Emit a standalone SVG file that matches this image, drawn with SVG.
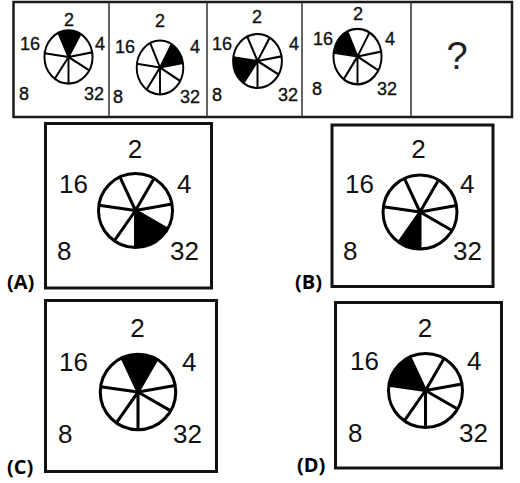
<svg xmlns="http://www.w3.org/2000/svg" xmlns:xlink="http://www.w3.org/1999/xlink" width="520" height="483" viewBox="0 0 520 483">
<style>
.bg{fill:#fff}
.frame{fill:none;stroke:#1a1a1a;stroke-width:2.5}
.div{fill:none;stroke:#333;stroke-width:1.5}
.box{fill:#fff;stroke:#111;stroke-width:3}
.wfill{fill:#fff}
.wline{fill:none;stroke:#000;stroke-width:3;stroke-linejoin:round}
.blk{fill:#000}
.s{font-family:"Liberation Sans",Arial,sans-serif;font-size:18px;fill:#111;stroke:#111;stroke-width:0.35}
.l{font-family:"Liberation Sans",Arial,sans-serif;font-size:26px;fill:#111}
.q{font-family:"Liberation Sans",Arial,sans-serif;font-size:38px;fill:#222;text-anchor:middle}
.opt{font-family:"Open Sans","DejaVu Sans",sans-serif;font-size:20px;font-weight:bold;fill:#000}
.c{text-anchor:middle}
</style>
<defs>
<circle id="wbase" class="wfill" r="37"/>
<g id="wlines" class="wline">
<circle r="37"/>
<path d="M0,0L-15.64,-33.53M0,0L18.5,-32.04M0,0L36.44,-6.42M0,0L32.04,18.5M0,0L0,37M0,0L-21.22,30.31M0,0L-36.64,-5.15"/>
</g>
<path id="secTop" class="blk" d="M0,0L-15.64,-33.53A37,37 0 0 1 18.5,-32.04Z"/>
<path id="secUR" class="blk" d="M0,0L18.5,-32.04A37,37 0 0 1 36.44,-6.42Z"/>
<path id="secLR" class="blk" d="M0,0L32.04,18.5A37,37 0 0 1 0,37Z"/>
<path id="secBL" class="blk" d="M0,0L0,37A37,37 0 0 1 -21.22,30.31Z"/>
<path id="secLL" class="blk" d="M0,0L-21.22,30.31A37,37 0 0 1 -36.64,-5.15Z"/>
<path id="secUL" class="blk" d="M0,0L-36.64,-5.15A37,37 0 0 1 -15.64,-33.53Z"/>
</defs>
<rect class="bg" x="0" y="0" width="520" height="483"/>

<g id="strip">
<rect class="frame" x="13.5" y="2" width="498.5" height="115"/>
<path class="div" d="M109,2V117M207,2V117M302,2V117M411,2V117"/>
</g>

<g id="panel1">
<g transform="translate(68.5,57) scale(0.65,0.72)"><use href="#wbase"/><use href="#secTop"/><use href="#wlines"/></g>
<text class="s c" x="69" y="26">2</text>
<text class="s" x="20" y="50">16</text>
<text class="s" x="95" y="50">4</text>
<text class="s" x="19" y="100">8</text>
<text class="s" x="84" y="100">32</text>
</g>

<g id="panel2">
<g transform="translate(160,67.5) scale(0.63,0.73)"><use href="#wbase"/><use href="#secUR"/><use href="#wlines"/></g>
<text class="s c" x="160" y="27">2</text>
<text class="s" x="115" y="53">16</text>
<text class="s" x="190" y="53">4</text>
<text class="s" x="113" y="103">8</text>
<text class="s" x="180" y="103">32</text>
</g>

<g id="panel3">
<g transform="translate(257.5,61) scale(0.66,0.73)"><use href="#wbase"/><use href="#secLL"/><use href="#wlines"/></g>
<text class="s c" x="257" y="23">2</text>
<text class="s" x="212" y="50">16</text>
<text class="s" x="289" y="50">4</text>
<text class="s" x="212" y="101">8</text>
<text class="s" x="278" y="101">32</text>
</g>

<g id="panel4">
<g transform="translate(357.5,56.5) scale(0.65,0.75)"><use href="#wbase"/><use href="#secUL"/><use href="#wlines"/></g>
<text class="s c" x="358" y="20">2</text>
<text class="s" x="313" y="45">16</text>
<text class="s" x="385" y="45">4</text>
<text class="s" x="312" y="95">8</text>
<text class="s" x="377" y="95">32</text>
</g>

<g id="panel5">
<text class="q" x="457" y="69">?</text>
</g>

<g id="optionA">
<rect class="box" x="45.5" y="123.5" width="166" height="164.5"/>
<g transform="translate(135.5,210.5)"><use href="#wbase"/><use href="#secLR"/><use href="#wlines"/></g>
<text class="l c" x="135" y="158">2</text>
<text class="l" x="59" y="193">16</text>
<text class="l" x="177" y="193">4</text>
<text class="l" x="57" y="260">8</text>
<text class="l" x="170" y="260">32</text>
<text class="opt" x="7" y="289">(A)</text>
</g>

<g id="optionB">
<rect class="box" x="332" y="125" width="161" height="161.5"/>
<g transform="translate(420,212)"><use href="#wbase"/><use href="#secBL"/><use href="#wlines"/></g>
<text class="l c" x="418.5" y="158">2</text>
<text class="l" x="345" y="193">16</text>
<text class="l" x="460" y="193">4</text>
<text class="l" x="343" y="260">8</text>
<text class="l" x="453" y="260">32</text>
<text class="opt" x="295" y="289">(B)</text>
</g>

<g id="optionC">
<rect class="box" x="45.5" y="300.5" width="171" height="171"/>
<g transform="translate(138,392) scale(1.02)"><use href="#wbase"/><use href="#secTop"/><use href="#wlines"/></g>
<text class="l c" x="137.5" y="337">2</text>
<text class="l" x="59" y="371">16</text>
<text class="l" x="182" y="371">4</text>
<text class="l" x="58" y="443">8</text>
<text class="l" x="173" y="443">32</text>
<text class="opt" x="7" y="474">(C)</text>
</g>

<g id="optionD">
<rect class="box" x="335.5" y="302.5" width="166" height="165.5"/>
<g transform="translate(425.5,390.5)"><use href="#wbase"/><use href="#secUL"/><use href="#wlines"/></g>
<text class="l c" x="425" y="337">2</text>
<text class="l" x="350" y="370">16</text>
<text class="l" x="467" y="370">4</text>
<text class="l" x="348" y="442">8</text>
<text class="l" x="459" y="442">32</text>
<text class="opt" x="297" y="472">(D)</text>
</g>

<g id="connectors"></g>
</svg>
